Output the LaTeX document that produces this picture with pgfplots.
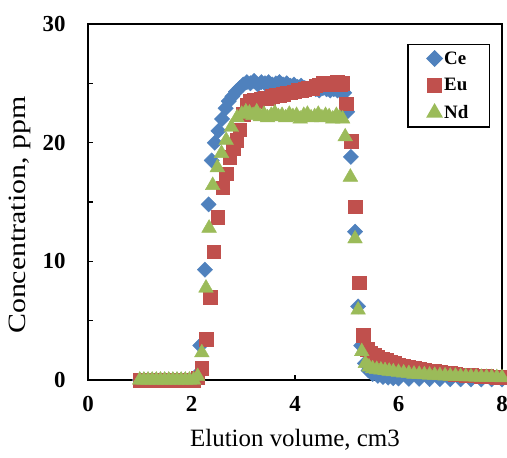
\documentclass[border=0pt]{standalone}
\usepackage{fontspec}
\setmainfont{Liberation Serif}
\usepackage{pgfplots}
\usepackage{pgfplotstable}
\pgfplotsset{compat=1.18}
\definecolor{ceblue}{RGB}{79,129,189}
\definecolor{eured}{RGB}{192,80,77}
\definecolor{ndgreen}{RGB}{155,187,89}

% Ce elution profile
\pgfplotstableread{
x y
1.00 0
1.08 0
1.16 0
1.24 0
1.32 0
1.40 0
1.48 0
1.56 0
1.64 0
1.72 0
1.80 0
1.88 0
1.96 0
2.04 0
2.10 0.4
2.17 2.9
2.26 9.3
2.33 14.8
2.39 18.5
2.45 20.0
2.52 21.0
2.59 22.0
2.66 22.9
2.72 23.5
2.79 23.9
2.86 24.3
2.93 24.6
3.00 24.9
3.07 25.1
3.14 25.0
3.21 25.2
3.28 24.9
3.35 25.1
3.42 25.0
3.49 25.1
3.56 24.9
3.63 25.0
3.70 25.1
3.77 24.9
3.84 25.0
3.91 24.8
3.98 24.9
4.05 24.7
4.12 24.8
4.19 24.6
4.26 24.5
4.33 24.6
4.40 24.5
4.47 24.4
4.54 24.6
4.61 24.5
4.68 24.4
4.75 24.5
4.82 24.4
4.89 24.3
4.95 24.2
5.01 22.6
5.08 18.8
5.16 12.5
5.22 6.2
5.28 2.9
5.35 1.4
5.42 0.8
5.50 0.5
5.60 0.35
5.70 0.25
5.80 0.2
5.90 0.15
6.00 0.12
6.20 0.1
6.40 0.1
6.60 0.08
6.80 0.08
7.00 0.06
7.20 0.06
7.40 0.05
7.60 0.05
7.80 0.05
8.00 0.05
}\cedata

% Eu elution profile
\pgfplotstableread{
x y
1.00 0
1.08 0
1.16 0
1.24 0
1.32 0
1.40 0
1.48 0
1.56 0
1.64 0
1.72 0
1.80 0
1.88 0
1.96 0
2.04 0
2.12 0.2
2.20 1.0
2.28 3.45
2.36 7.0
2.43 10.8
2.51 13.7
2.60 16.2
2.67 17.4
2.74 18.8
2.80 19.5
2.87 20.2
2.93 21.1
3.00 22.4
3.07 23.2
3.14 23.5
3.21 23.6
3.28 23.5
3.35 23.7
3.42 23.8
3.49 23.7
3.56 23.9
3.63 24.0
3.70 24.0
3.77 24.1
3.84 24.2
3.91 24.2
3.98 24.3
4.05 24.4
4.12 24.4
4.19 24.5
4.26 24.6
4.33 24.6
4.40 24.8
4.47 24.9
4.54 25.0
4.61 24.9
4.68 25.0
4.75 25.0
4.82 25.1
4.87 24.9
4.92 25.0
4.99 23.3
5.09 20.1
5.16 14.6
5.24 8.2
5.32 3.8
5.39 2.6
5.46 2.3
5.53 2.1
5.60 1.9
5.68 1.8
5.76 1.65
5.84 1.5
5.92 1.4
6.00 1.3
6.10 1.2
6.20 1.1
6.30 1.0
6.40 0.95
6.50 0.85
6.60 0.8
6.70 0.75
6.80 0.65
6.90 0.6
7.00 0.55
7.10 0.5
7.20 0.45
7.30 0.42
7.40 0.4
7.50 0.35
7.60 0.33
7.70 0.3
7.80 0.28
7.90 0.25
8.00 0.22
}\eudata

% Nd elution profile
\pgfplotstableread{
x y
1.00 0
1.08 0
1.16 0
1.24 0
1.32 0
1.40 0
1.48 0
1.56 0
1.64 0
1.72 0
1.80 0
1.88 0
1.96 0
2.04 0
2.12 0.3
2.20 2.3
2.28 7.75
2.34 12.8
2.41 16.4
2.50 17.9
2.58 19.1
2.67 20.2
2.77 21.3
2.88 22.1
2.97 22.4
3.05 22.6
3.12 22.5
3.19 22.3
3.26 22.6
3.33 22.2
3.40 22.4
3.47 22.1
3.54 22.3
3.61 22.5
3.68 22.2
3.75 22.3
3.82 22.1
3.89 22.4
3.96 22.2
4.03 22.3
4.10 22.0
4.17 22.3
4.24 22.4
4.31 22.1
4.38 22.2
4.45 22.4
4.52 22.1
4.59 22.3
4.66 22.2
4.73 22.0
4.80 22.3
4.86 22.1
4.92 22.0
4.97 20.5
5.07 17.1
5.16 11.9
5.22 5.9
5.29 2.4
5.36 1.4
5.43 1.1
5.50 0.95
5.58 0.9
5.66 0.85
5.74 0.8
5.82 0.75
5.90 0.7
6.00 0.65
6.10 0.6
6.20 0.55
6.30 0.5
6.40 0.48
6.50 0.45
6.60 0.42
6.70 0.4
6.80 0.38
6.90 0.35
7.00 0.33
7.10 0.32
7.20 0.3
7.30 0.28
7.40 0.27
7.50 0.25
7.60 0.24
7.70 0.23
7.80 0.22
7.90 0.21
8.00 0.2
}\nddata

\begin{document}
\begin{tikzpicture}
\begin{axis}[
    name=ax,
    scale only axis,
    width=414bp, height=356bp,
    xmin=0, xmax=8, ymin=0, ymax=30,
    xtick={0,2,4,6,8},
    ytick={0,10,20,30},
    minor ytick={5,15,25},
    xtick pos=bottom, ytick pos=left,
    tick align=inside,
    major tick length=5bp, minor tick length=5bp,
    tick style={black, line width=1.5bp},
    axis line style={black, line width=2.2bp},
    /pgf/number format/assume math mode=true,
    ticklabel style={font=\fontsize{23}{26}\selectfont\bfseries},
    xticklabel style={yshift=-13bp},
    yticklabel style={xshift=-19bp},
    xlabel={Elution volume, cm3},
    ylabel={\scalebox{1.2}[1]{Concentration, ppm}},
    label style={font=\fontsize{25}{28}\selectfont},
    xlabel style={at={(axis description cs:0.5,-0.169)}, anchor=center},
    ylabel style={at={(axis description cs:-0.164,0.463)}, anchor=center},
    legend style={at={(0.971,0.944)}, anchor=north east, draw=black,
        line width=1.2bp, font=\fontsize{19}{22}\selectfont\bfseries,
        row sep=9bp, inner xsep=19bp, inner ysep=5bp},
    legend cell align=left,
]
\addplot[only marks, color=ceblue, mark=square*, mark size=5.4bp,
    mark options={rotate=45}] table {\cedata};
\addlegendentry{Ce}
\addplot[only marks, color=eured, mark=square*, mark size=6.8bp] table {\eudata};
\addlegendentry{Eu}
\addplot[only marks, color=ndgreen, mark=triangle*, mark size=8.5bp] table {\nddata};
\addlegendentry{Nd}
\end{axis}
\pgfresetboundingbox
\path (ax.south west) ++(-88bp,-78bp) rectangle ++(507bp,458bp);
\end{tikzpicture}
\end{document}
